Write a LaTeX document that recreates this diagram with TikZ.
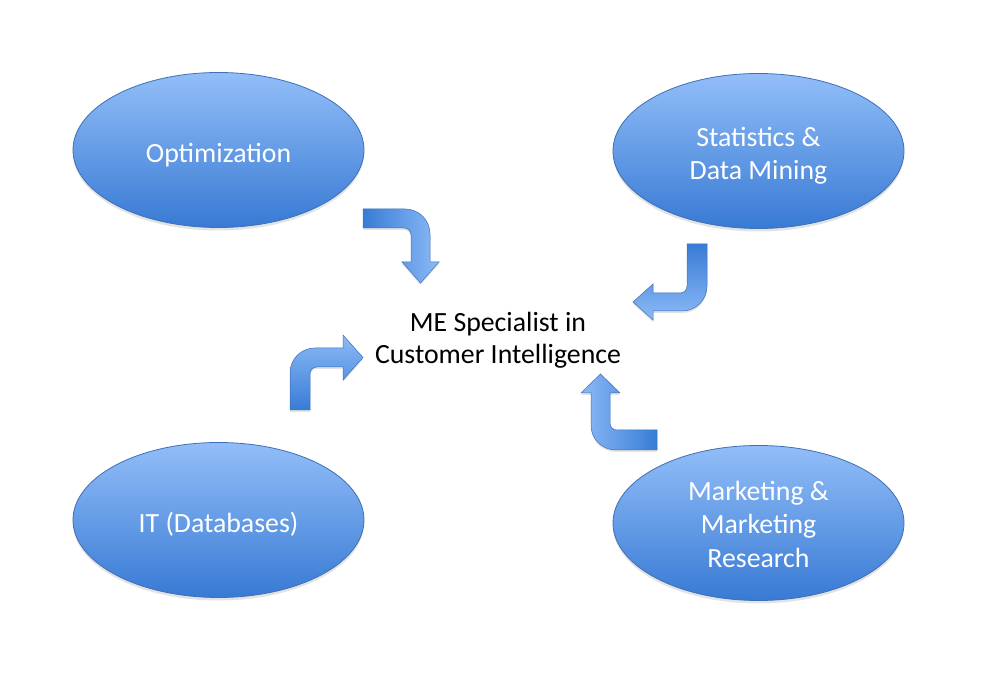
\documentclass[tikz,border=0pt]{standalone}
\usepackage{fontspec}
\setmainfont{Carlito}
\usetikzlibrary{shapes.geometric,shadows}
\definecolor{ellTop}{RGB}{146,190,248}
\definecolor{ellBot}{RGB}{56,122,212}
\definecolor{ellEdge}{RGB}{62,112,182}
\definecolor{arrDark}{RGB}{56,124,214}
\definecolor{arrLight}{RGB}{140,186,246}
\begin{document}
\begin{tikzpicture}[x=1pt,y=-1pt,
  topic/.style={ellipse, draw=ellEdge, line width=0.8pt, top color=ellTop, bottom color=ellBot,
    minimum width=291pt, minimum height=155pt, inner sep=0pt,
    drop shadow={opacity=0.22, shadow xshift=0pt, shadow yshift=-3pt}},
  topictext/.style={text=white, align=center, inner sep=0pt,
    font=\fontsize{27.8}{33.5}\selectfont},
  bentarrow/.style={draw=ellEdge, line width=0.5pt,
    drop shadow={opacity=0.22, shadow xshift=0pt, shadow yshift=-2pt}},
  centre/.style={text=black, align=center, font=\fontsize{27.8}{32.5}\selectfont}]
\fill[white] (0,0) rectangle (994,692);
\useasboundingbox (0,0) rectangle (994,692);

\node[topic] (opt) at (218.5,150) {};
\node[topic] (stat) at (758.5,151) {};
\node[topic] (it) at (218.5,520) {};
\node[topic] (mkt) at (758.5,523) {};

\node[topictext] (optT) at (218.5,155) {Optimization};
\node[topictext] (statT) at (758.5,156) {Statistics \&\\ Data Mining};
\node[topictext] (itT) at (218.5,524) {IT (Databases)};
\node[topictext] (mktT) at (758.5,524) {Marketing \&\\ Marketing\\ Research};

\node[centre] (me) at (498,340) {ME Specialist in\\ Customer Intelligence};

% bent arrow from Optimization
\shade[bentarrow, left color=arrDark, right color=arrLight]
  (363,209) -- (405,209) .. controls (419,209) and (430,220) .. (430,234)
  -- (430,262) -- (439,262) -- (420.5,283) -- (402,262) -- (411,262)
  -- (411,235) .. controls (411,231) and (408,228) .. (404,228) -- (363,228) -- cycle;

% bent arrow from Statistics
\shade[bentarrow, top color=arrDark, bottom color=arrLight]
  (687,244) -- (707,244) -- (707,286) .. controls (707,300) and (696,311) .. (682,311)
  -- (653,311) -- (653,320) -- (633,302) -- (653,284) -- (653,293)
  -- (680,293) .. controls (684,293) and (687,290) .. (687,286) -- cycle;

% bent arrow from IT
\shade[bentarrow, bottom color=arrDark, top color=arrLight]
  (290,410) -- (290,373) .. controls (290,359) and (301,348) .. (315,348)
  -- (343,348) -- (343,335) -- (363,357.5) -- (343,380) -- (343,367)
  -- (317,367) .. controls (313,367) and (310,370) .. (310,374) -- (310,410) -- cycle;

% bent arrow from Marketing
\shade[bentarrow, right color=arrDark, left color=arrLight]
  (657,430) -- (617,430) .. controls (613,430) and (610,427) .. (610,423)
  -- (610,393) -- (620,393) -- (600.5,374) -- (581,393) -- (591,393)
  -- (591,425) .. controls (591,439) and (602,450) .. (616,450) -- (657,450) -- cycle;
\end{tikzpicture}
\end{document}
